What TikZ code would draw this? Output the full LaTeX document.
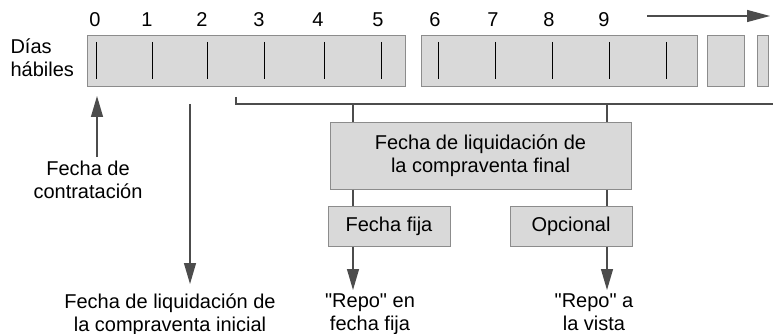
\documentclass[tikz,border=0pt]{standalone}
\usepackage{fontspec}
\setmainfont{Liberation Sans}
\usetikzlibrary{arrows.meta}
\begin{document}
\begin{tikzpicture}[x=1pt, y=-1pt, every node/.style={font=\fontsize{20}{23}\selectfont}]
  \tikzstyle{daybox}=[draw=black!45, fill=black!15, line width=1pt, inner sep=0pt, minimum height=51pt]
  \tikzstyle{datebox}=[draw=black!45, fill=black!15, line width=1pt, inner sep=0pt, align=center]
  \tikzstyle{line}=[draw=black!70, line width=1.2pt]
  \tikzstyle{arrow}=[line, -{Triangle[length=21pt, width=12pt]}]
  \tikzstyle{tick}=[draw=black, line width=1pt]

  \useasboundingbox (0,0) rectangle (776,334);

  % dias habiles
  \node[anchor=north west, align=left] (days) at (7, 35) {Días\\hábiles};

  \node[daybox, minimum width=318pt] (w1) at (246,   61.5) {};
  \node[daybox, minimum width=276pt] (w2) at (559,   61.5) {};
  \node[daybox, minimum width=37pt]  (w3) at (725.5, 61.5) {};
  \node[daybox, minimum width=11pt]  (w4) at (762.5, 61.5) {};

  \foreach \x in {96, 152, 207, 264, 324, 381, 438, 495, 552, 609, 666}
    \draw[tick] (\x, 42) -- (\x, 79);

  \foreach \n/\x in {0/95, 1/147, 2/202, 3/259, 4/318, 5/378, 6/435, 7/493, 8/549, 9/604}
    \node (d\n) at (\x, 20) {\n};

  \coordinate (t0) at (647, 16);
  \coordinate (t1) at (770, 16);
  \draw[arrow, -{Triangle[length=23pt, width=12pt]}] (t0) -- (t1);

  % contratacion
  \node[anchor=north, align=center] (trade) at (88, 157) {Fecha de\\contratación};
  \coordinate (tradetip) at (97, 96);
  \draw[arrow] (trade.north -| tradetip) -- (tradetip);

  % liquidacion inicial
  \coordinate (start) at (190, 104);
  \coordinate (starttip) at (190, 284);
  \draw[arrow] (start) -- (starttip);
  \node[anchor=north, align=center] (initial) at (170, 290) {Fecha de liquidación de\\la compraventa inicial};

  % liquidacion final
  \coordinate (bl) at (236, 97);
  \coordinate (br) at (773, 104);
  \draw[line] (bl) -- (bl |- br) -- (br);

  \node[datebox, minimum width=301pt, minimum height=66pt] (final) at (480.5, 156) {Fecha de liquidación de\\la compraventa final};
  \node[datebox, minimum width=122pt, minimum height=40pt] (fixed) at (389, 226) {Fecha fija};
  \node[datebox, minimum width=122pt, minimum height=40pt] (open)  at (571, 226) {Opcional};

  \coordinate (c1) at (353, 104);
  \coordinate (c2) at (607, 104);
  \draw[line] (c1) -- (c1 |- final.north);
  \draw[line] (c2) -- (c2 |- final.north);
  \draw[line] (c1 |- final.south) -- (c1 |- fixed.north);
  \draw[line] (c2 |- final.south) -- (c2 |- open.north);

  \node[anchor=north, align=center] (repofixed) at (370, 290) {\textquotedbl Repo\textquotedbl{} en\\fecha fija};
  \node[anchor=north, align=center] (repoopen)  at (594, 290) {\textquotedbl Repo\textquotedbl{} a\\la vista};
  \draw[arrow] (c1 |- fixed.south) -- (c1 |- repofixed.north);
  \draw[arrow] (c2 |- open.south)  -- (c2 |- repoopen.north);

\end{tikzpicture}
\end{document}
